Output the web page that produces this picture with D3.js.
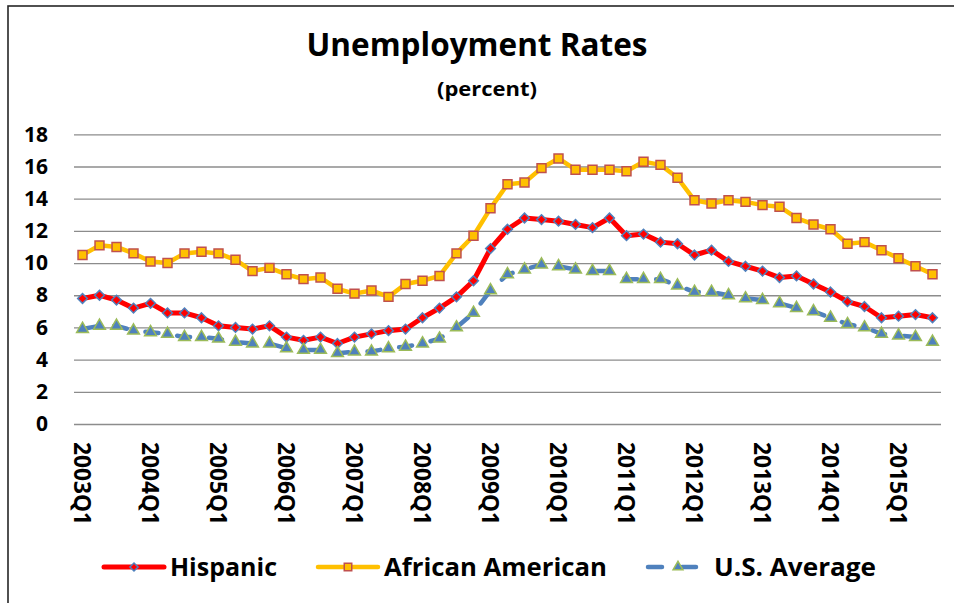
<!DOCTYPE html>
<html>
<head>
<meta charset="utf-8">
<script src="https://cdn.jsdelivr.net/npm/d3@7/dist/d3.min.js"></script>
<style>
  html, body { margin: 0; padding: 0; background: #fff; }
  svg { display: block; font-family: "Open Sans", Lato, sans-serif; font-weight: 700; }
</style>
</head>
<body>
<svg id="chart" width="954" height="603"></svg>
<script>
const quarters = [
  "2003Q1","2003Q2","2003Q3","2003Q4","2004Q1","2004Q2","2004Q3","2004Q4",
  "2005Q1","2005Q2","2005Q3","2005Q4","2006Q1","2006Q2","2006Q3","2006Q4",
  "2007Q1","2007Q2","2007Q3","2007Q4","2008Q1","2008Q2","2008Q3","2008Q4",
  "2009Q1","2009Q2","2009Q3","2009Q4","2010Q1","2010Q2","2010Q3","2010Q4",
  "2011Q1","2011Q2","2011Q3","2011Q4","2012Q1","2012Q2","2012Q3","2012Q4",
  "2013Q1","2013Q2","2013Q3","2013Q4","2014Q1","2014Q2","2014Q3","2014Q4",
  "2015Q1","2015Q2","2015Q3"
];
const hispanic = [
  7.8, 8.0, 7.7, 7.2, 7.5, 6.9, 6.9, 6.6,
  6.1, 6.0, 5.9, 6.1, 5.4, 5.2, 5.4, 5.0,
  5.4, 5.6, 5.8, 5.9, 6.6, 7.2, 7.9, 8.9,
  10.9, 12.1, 12.8, 12.7, 12.6, 12.4, 12.2, 12.8,
  11.7, 11.8, 11.3, 11.2, 10.5, 10.8, 10.1, 9.8,
  9.5, 9.1, 9.2, 8.7, 8.2, 7.6, 7.3, 6.6,
  6.7, 6.8, 6.6
];
const africanAmerican = [
  10.5, 11.1, 11.0, 10.6, 10.1, 10.0, 10.6, 10.7,
  10.6, 10.2, 9.5, 9.7, 9.3, 9.0, 9.1, 8.4,
  8.1, 8.3, 7.9, 8.7, 8.9, 9.2, 10.6, 11.7,
  13.4, 14.9, 15.0, 15.9, 16.5, 15.8, 15.8, 15.8,
  15.7, 16.3, 16.1, 15.3, 13.9, 13.7, 13.9, 13.8,
  13.6, 13.5, 12.8, 12.4, 12.1, 11.2, 11.3, 10.8,
  10.3, 9.8, 9.3
];
const usAverage = [
  5.9, 6.1, 6.1, 5.8, 5.7, 5.6, 5.4, 5.4,
  5.3, 5.1, 5.0, 5.0, 4.7, 4.6, 4.6, 4.4,
  4.5, 4.5, 4.7, 4.8, 5.0, 5.3, 6.0, 6.9,
  8.3, 9.3, 9.6, 9.9, 9.8, 9.6, 9.5, 9.5,
  9.0, 9.0, 9.0, 8.6, 8.2, 8.2, 8.0, 7.8,
  7.7, 7.5, 7.2, 7.0, 6.6, 6.2, 6.0, 5.6,
  5.5, 5.4, 5.1
];
const yTicks = [0, 2, 4, 6, 8, 10, 12, 14, 16, 18];
const xTickLabels = ["2003Q1","2004Q1","2005Q1","2006Q1","2007Q1","2008Q1","2009Q1",
                     "2010Q1","2011Q1","2012Q1","2013Q1","2014Q1","2015Q1"];
const seriesNames = ["Hispanic", "African American", "U.S. Average"];
const titleText = "Unemployment Rates";
const subtitleText = "(percent)";

const svg = d3.select("#chart");
const FONT = "'Open Sans', Lato, sans-serif";

// outer border
svg.append("rect")
  .attr("x", 8).attr("y", 6).attr("width", 980).attr("height", 640)
  .attr("fill", "none").attr("stroke", "#262626").attr("stroke-width", 1.6);

const plot = { left: 74, right: 941, top: 134.3, bottom: 424 };

const x = d3.scaleBand().domain(quarters).range([plot.left, plot.right]);
const y = d3.scaleLinear().domain([0, 18]).range([plot.bottom, plot.top]);
const cx = q => x(q) + x.bandwidth() / 2;

// title
svg.append("text").attr("x", 477).attr("y", 56).attr("text-anchor", "middle")
  .attr("font-size", 32).attr("fill", "#000")
  .attr("textLength", 341).attr("lengthAdjust", "spacingAndGlyphs")
  .text(titleText);
svg.append("text").attr("x", 487).attr("y", 96).attr("text-anchor", "middle")
  .attr("font-size", 20).attr("fill", "#000")
  .attr("textLength", 100).attr("lengthAdjust", "spacingAndGlyphs")
  .text(subtitleText);

// gridlines + y labels
const yAxis = d3.axisLeft(y).tickValues(yTicks).tickSize(-(plot.right - plot.left)).tickPadding(26).tickFormat(d3.format("d"));
const gy = svg.append("g").attr("transform", `translate(${plot.left},0)`).call(yAxis);
gy.select(".domain").remove();
gy.selectAll(".tick line").attr("stroke", "#8c8c8c").attr("stroke-width", 1.3);
gy.selectAll(".tick text").attr("font-size", 21).attr("fill", "#000")
  .attr("font-family", FONT).attr("font-weight", 700);

// x labels
const xAxis = d3.axisBottom(x).tickValues(xTickLabels).tickSize(0).tickPadding(0);
const gx = svg.append("g").attr("transform", `translate(0,${plot.bottom})`).call(xAxis);
gx.select(".domain").remove();
gx.selectAll(".tick text")
  .attr("font-size", 23).attr("fill", "#000")
  .attr("font-family", FONT).attr("font-weight", 700)
  .attr("text-anchor", "start")
  .attr("transform", "translate(0,18) rotate(90)")
  .attr("x", 0).attr("y", 0).attr("dy", "0.36em")
  .attr("textLength", 83).attr("lengthAdjust", "spacingAndGlyphs");

// series
const series = [
  { name: seriesNames[0], values: hispanic, color: "#FF0000", width: 5, dash: null, marker: "diamond",
    mfill: "#FF0000", mstroke: "#4F81BD", msize: 60 },
  { name: seriesNames[1], values: africanAmerican, color: "#FFC000", width: 4.5, dash: null, marker: "square",
    mfill: "#FFC000", mstroke: "#C0504D", msize: 80 },
  { name: seriesNames[2], values: usAverage, color: "#4F81BD", width: 4.5, dash: "13,19", marker: "triangle",
    mfill: "#4F81BD", mstroke: "#9BBB59", msize: 60 }
];
const symType = { diamond: d3.symbolDiamond2, square: d3.symbolSquare, triangle: d3.symbolTriangle };

const line = d3.line().x((d, i) => cx(quarters[i])).y(d => y(d));

series.forEach(s => {
  svg.append("path").datum(s.values)
    .attr("d", line).attr("fill", "none")
    .attr("stroke", s.color).attr("stroke-width", s.width)
    .attr("stroke-linejoin", "round").attr("stroke-linecap", "round")
    .attr("stroke-dasharray", s.dash);
  svg.append("g").selectAll("path").data(s.values).join("path")
    .attr("transform", (d, i) => `translate(${cx(quarters[i])},${y(d)})`)
    .attr("d", d3.symbol().type(symType[s.marker]).size(s.msize))
    .attr("fill", s.mfill).attr("stroke", s.mstroke).attr("stroke-width", 1.5);
});

// legend
const legendY = 567;
const legendX = [104, 318, 648];
const legendTextLen = [107, 223, 162];
series.forEach((s, k) => {
  const g = svg.append("g").attr("transform", `translate(${legendX[k]},${legendY})`);
  g.append("line").attr("x1", 0).attr("x2", 60).attr("y1", 0).attr("y2", 0)
    .attr("stroke", s.color).attr("stroke-width", s.width)
    .attr("stroke-linecap", "round").attr("stroke-dasharray", s.dash ? "14,20" : null);
  g.append("path").attr("transform", "translate(30,0)")
    .attr("d", d3.symbol().type(symType[s.marker]).size(s.msize * 0.7))
    .attr("fill", s.mfill).attr("stroke", s.mstroke).attr("stroke-width", 1.5);
  g.append("text").attr("x", 66).attr("y", 9).attr("font-size", 25).attr("fill", "#000")
    .attr("textLength", legendTextLen[k]).attr("lengthAdjust", "spacingAndGlyphs")
    .text(s.name);
});
</script>
</body>
</html>
